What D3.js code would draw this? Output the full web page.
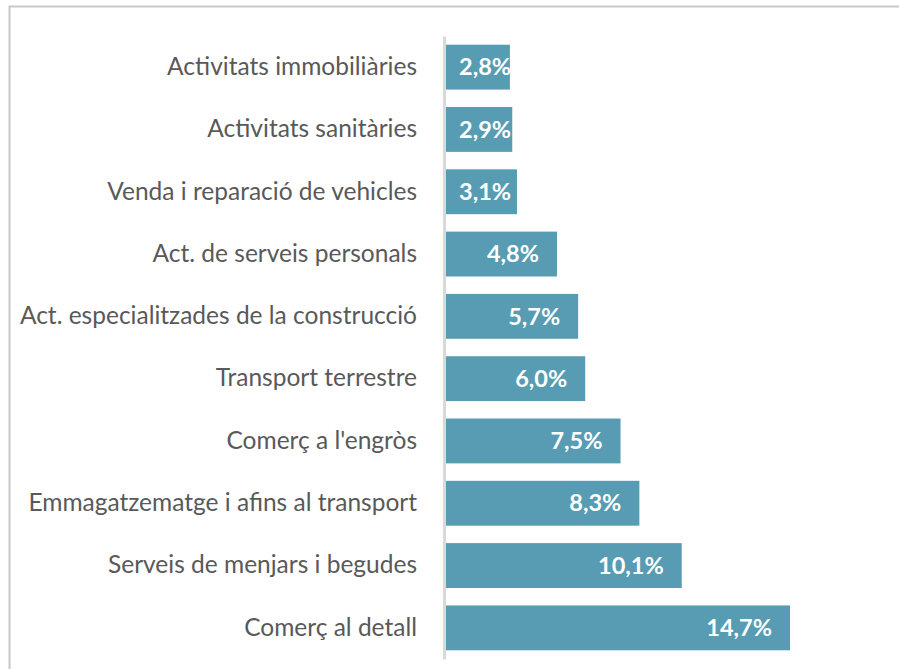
<!DOCTYPE html>
<html>
<head>
<meta charset="utf-8">
<script src="https://cdn.jsdelivr.net/npm/d3@7"></script>
<style>
  body { margin: 0; background: #fff; }
  text { font-family: Lato, "Open Sans", sans-serif; }
</style>
</head>
<body>
<svg id="chart" width="899" height="669"></svg>
<script>
// categories top to bottom
const categories = [
  "Activitats immobiliàries",
  "Activitats sanitàries",
  "Venda i reparació de vehicles",
  "Act. de serveis personals",
  "Act. especialitzades de la construcció",
  "Transport terrestre",
  "Comerç a l'engròs",
  "Emmagatzematge i afins al transport",
  "Serveis de menjars i begudes",
  "Comerç al detall"
];
const values = [2.8, 2.9, 3.1, 4.8, 5.7, 6.0, 7.5, 8.3, 10.1, 14.7];

const data = categories.map((c, i) => ({ cat: c, val: values[i] }));

const svg = d3.select("#chart");

// outer frame
svg.append("rect")
  .attr("x", 9.5).attr("y", 6.5)
  .attr("width", 900).attr("height", 700)
  .attr("fill", "none")
  .attr("stroke", "#c8c8c8")
  .attr("stroke-width", 2);

const x0 = 444;
const x = d3.scaleLinear().domain([0, 14.7]).range([x0, 790]);
const y = d3.scaleBand().domain(categories).range([36, 659]).paddingInner(0.28).paddingOuter(0.14);

const fmt = v => d3.format(".1f")(v).replace(".", ",") + "%";

svg.append("g").selectAll("rect")
  .data(data)
  .enter().append("rect")
  .attr("x", x(0) + 1)
  .attr("y", d => y(d.cat))
  .attr("width", d => x(d.val) - x(0) - 1)
  .attr("height", y.bandwidth())
  .attr("fill", "#579cb2");

// category axis
const axis = svg.append("g")
  .attr("transform", `translate(${x0},0)`)
  .call(d3.axisLeft(y).tickSize(0).tickPadding(27));
axis.select(".domain").attr("stroke", "#d9d9d9").attr("stroke-width", 3);
axis.selectAll("text")
  .attr("font-size", 24.5)
  .attr("fill", "#595959")
  .style("font-family", "Lato, 'Open Sans', sans-serif");

// value labels, inside end; pushed right when the bar is short
const labels = svg.append("g").selectAll("text")
  .data(data)
  .enter().append("text")
  .attr("y", d => y(d.cat) + y.bandwidth() / 2)
  .attr("dy", "0.35em")
  .attr("text-anchor", "end")
  .attr("font-size", 23.5)
  .attr("font-weight", "bold")
  .attr("fill", "#fff")
  .text(d => fmt(d.val));

labels.attr("x", function(d) {
  const w = this.getComputedTextLength();
  return Math.max(x(d.val) - 18, x0 + 15 + w);
});
</script>
</body>
</html>
